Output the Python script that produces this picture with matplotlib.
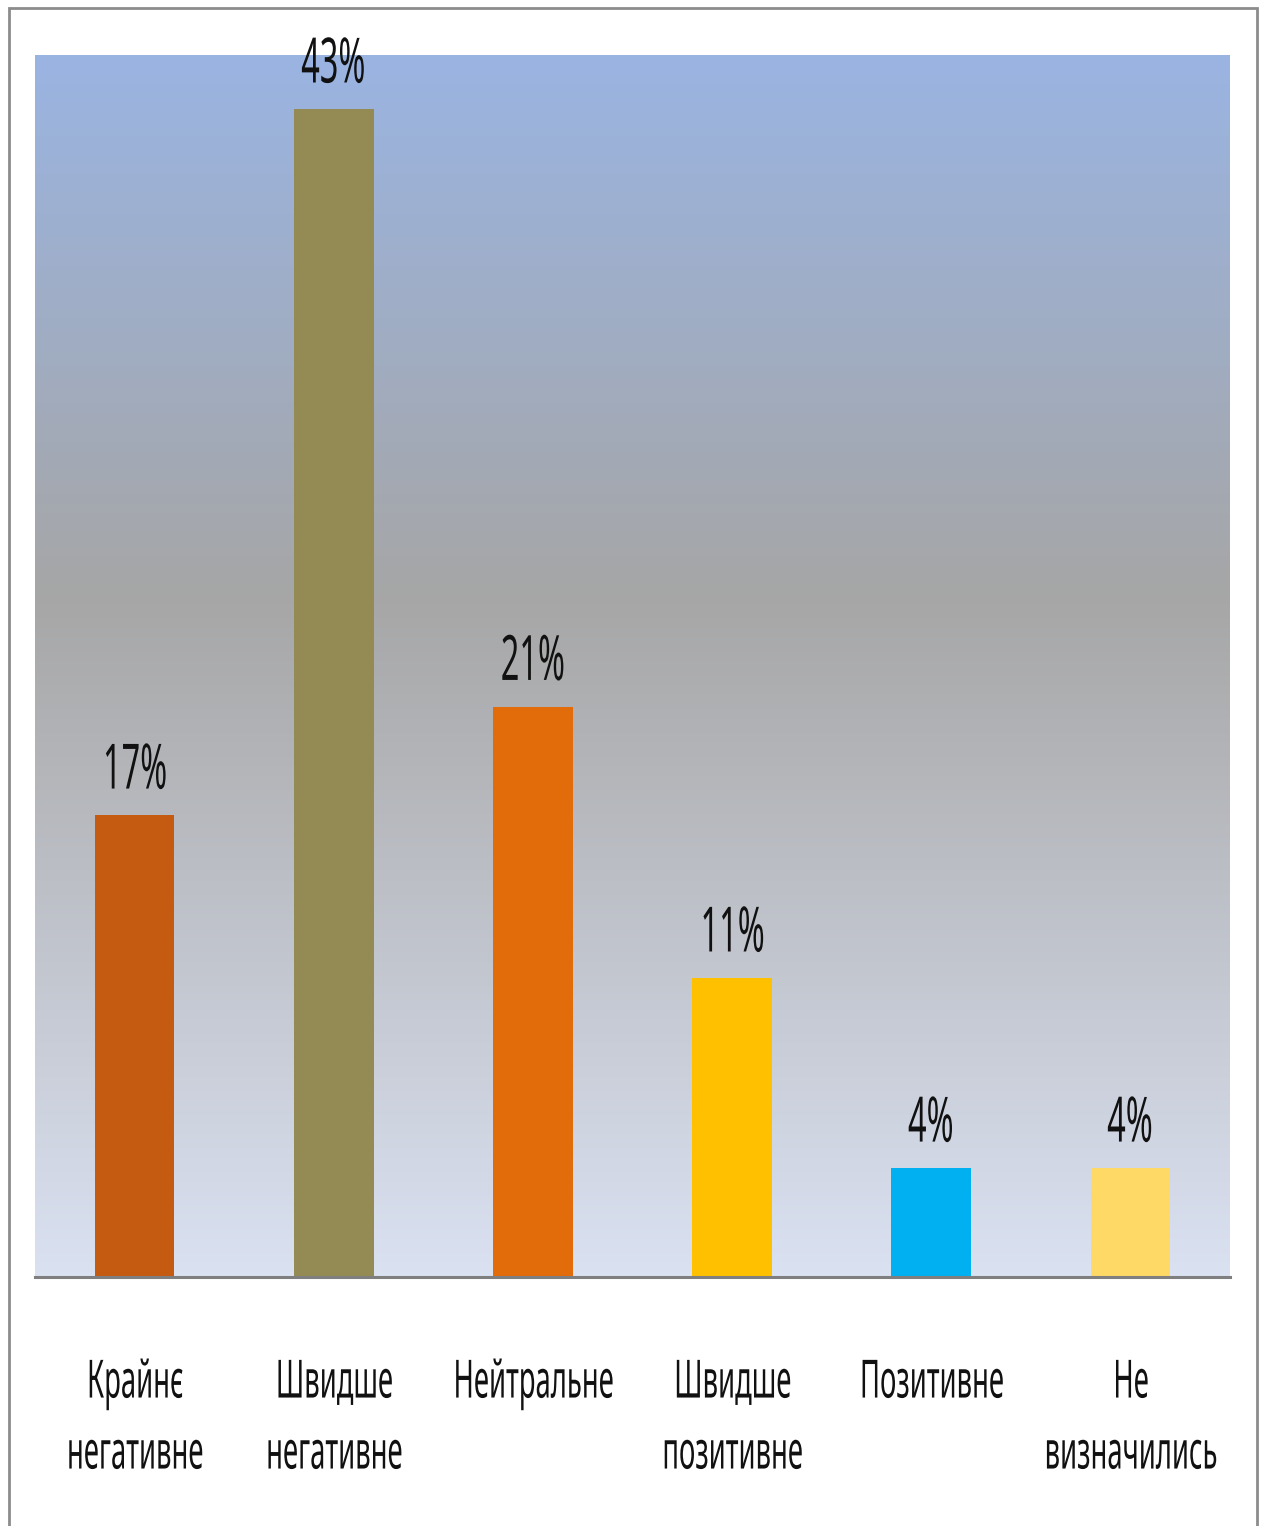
import numpy as np
import matplotlib.pyplot as plt
from matplotlib import patheffects
from matplotlib.colors import LinearSegmentedColormap
from matplotlib.patches import Rectangle
from matplotlib.path import Path
from matplotlib.transforms import Affine2D

categories = ["Крайнє\nнегативне", "Швидше\nнегативне", "Нейтральне",
              "Швидше\nпозитивне", "Позитивне", "Не\nвизначились"]
values = [17, 43, 21, 11, 4, 4]
value_labels = ["17%", "43%", "21%", "11%", "4%", "4%"]
bar_colors = ["#C55A11", "#948A54", "#E26B0A", "#FFC000", "#00B0F0", "#FFD966"]


class Narrow(patheffects.AbstractPathEffect):
    """Draw text squeezed horizontally about the centre of each line."""

    def __init__(self, sx=0.52):
        super().__init__()
        self.sx = sx

    def draw_path(self, renderer, gc, tpath, affine, rgbFace=None):
        verts = tpath.vertices
        if tpath.codes is not None:
            verts = verts[tpath.codes != Path.CLOSEPOLY]
        if len(verts) == 0:
            return
        pts = affine.transform(verts)
        cx = 0.5 * (pts[:, 0].min() + pts[:, 0].max())
        squeeze = Affine2D().translate(-cx, 0).scale(self.sx, 1).translate(cx, 0)
        renderer.draw_path(gc, tpath, affine + squeeze, rgbFace)


plt.rcParams['font.family'] = ['Noto Sans', 'DejaVu Sans']

fig = plt.figure(figsize=(12.64, 15.26), dpi=100)
fig.patches.append(Rectangle((9 / 1264, -0.01), 1248 / 1264, 1.01 - 8 / 1526,
                             transform=fig.transFigure, fill=False,
                             edgecolor='#8c8c8c', linewidth=2))

ax = fig.add_axes([35 / 1264, 249 / 1526, 1195 / 1264, 1222 / 1526])

# background gradient: blue at the top, grey in the middle, pale blue at the bottom
bg = LinearSegmentedColormap.from_list(
    'bg', [(0.0, '#DAE1F1'), (0.56, '#A6A6A6'), (1.0, '#9AB4E2')])
grad = np.linspace(0, 1, 256).reshape(-1, 1)
ax.imshow(grad, cmap=bg, aspect='auto', origin='lower',
          extent=(-0.5, 5.5, 0, 45), zorder=0)

x = np.arange(len(categories))
bars = ax.bar(x, values, width=0.4, color=bar_colors, zorder=2)

for xi, v, lab in zip(x, values, value_labels):
    ax.annotate(lab, (xi, v), xytext=(0, 8.5), textcoords='offset points',
                ha='center', va='bottom', fontsize=45, color='#111111',
                path_effects=[Narrow(0.52)])

ax.set_xlim(-0.5, 5.5)
ax.set_ylim(0, 45)
ax.set_yticks([])
ax.set_xticks(x)
ax.set_xticklabels(categories, fontsize=38, color='#111111', linespacing=1.45)
for lbl in ax.get_xticklabels():
    lbl.set_path_effects([Narrow(0.52)])
ax.tick_params(axis='x', length=0, pad=58)

for side in ['top', 'left', 'right']:
    ax.spines[side].set_visible(False)
ax.spines['bottom'].set_color('#7f7f7f')
ax.spines['bottom'].set_linewidth(2.2)
ax.spines['bottom'].set_zorder(3)

fig.savefig('out.png', dpi=100)
